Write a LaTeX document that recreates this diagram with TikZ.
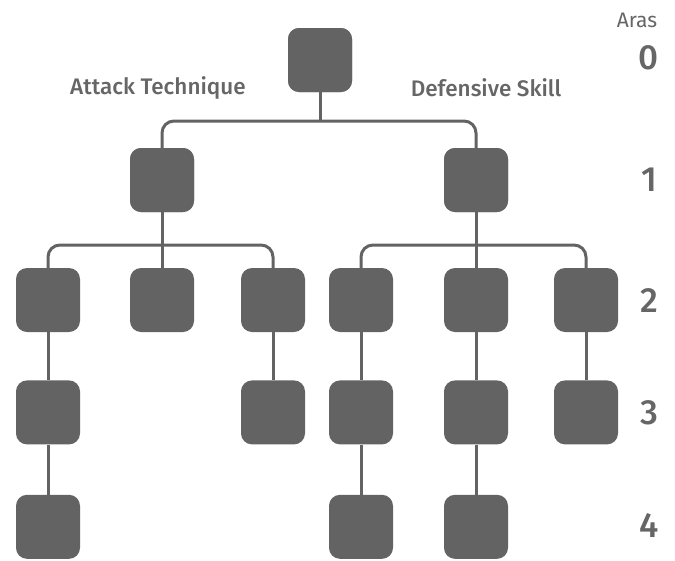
\documentclass[tikz,border=0pt]{standalone}
\usepackage{fontspec}
\setmainfont{Fira Sans}
\newfontfamily\medfont{Fira Sans Medium}
\usepackage{tikz}
\usetikzlibrary{positioning}

\definecolor{boxgray}{HTML}{636363}
\definecolor{textgray}{HTML}{666666}

\begin{document}
\begin{tikzpicture}
    [ x = 1pt, y = -1pt
    , skill/.style =
      { fill = boxgray, rounded corners = 11pt, minimum size = 64pt, inner sep = 0pt }
    , link/.style =
      { draw = boxgray, line width = 3pt, rounded corners = 12pt }
    , caption/.style =
      { text = textgray, font = \medfont\fontsize{22.5}{26}\selectfont }
    , level/.style =
      { text = textgray, font = \medfont\fontsize{35}{38}\selectfont, anchor = base }
    ]
    \useasboundingbox (0,0) rectangle (675,560);

    % tree
    \node [skill] (root) at (320,60) {};
    \node [skill] (att) at (162,180) {};
    \node [skill] (def) at (476,180) {};

    \node [skill] (att1) at (48,300) {};
    \node [skill] (att2) at (162,300) {};
    \node [skill] (att3) at (273,300) {};
    \node [skill] (def1) at (361,300) {};
    \node [skill] (def2) at (476,300) {};
    \node [skill] (def3) at (586,300) {};

    \node [skill] (att1b) [below=48pt of att1] {};
    \node [skill] (att1c) [below=50pt of att1b] {};
    \node [skill] (att3b) [below=48pt of att3] {};
    \node [skill] (def1b) [below=48pt of def1] {};
    \node [skill] (def1c) [below=50pt of def1b] {};
    \node [skill] (def2b) [below=48pt of def2] {};
    \node [skill] (def2c) [below=50pt of def2b] {};
    \node [skill] (def3b) [below=48pt of def3] {};

    \coordinate (j0) at (320,121);
    \coordinate (j1) at (162,245);
    \coordinate (j2) at (476,245);

    \draw [link] (root) -- (j0);
    \draw [link] (att.north) |- (j0) -| (def.north);
    \draw [link] (att) -- (att2);
    \draw [link] (att1.north) |- (j1) -| (att3.north);
    \draw [link] (def) -- (j2);
    \draw [link] (def1.north) |- (j2) -| (def3.north);
    \draw [link] (j2) -- (def2);

    \draw [link] (att1) -- (att1b) -- (att1c);
    \draw [link] (att3) -- (att3b);
    \draw [link] (def1) -- (def1b) -- (def1c);
    \draw [link] (def2) -- (def2b) -- (def2c);
    \draw [link] (def3) -- (def3b);

    \node [skill] at (root) {};
    \node [skill] at (att) {};
    \node [skill] at (def) {};

    % labels
    \node [caption] (atklabel) at (158,88) {Attack Technique};
    \node [caption] (deflabel) at (486,88) {Defensive Skill};
    \node [caption, font = \fontsize{21}{24}\selectfont] (aras) at (637,20) {Aras};
    \node [level] (lv0) at (649,69) {0};
    \node [level] (lv1) at (649,191) {1};
    \node [level] (lv2) at (649,312) {2};
    \node [level] (lv3) at (649,424) {3};
    \node [level] (lv4) at (649,537) {4};
  \end{tikzpicture}
\end{document}
